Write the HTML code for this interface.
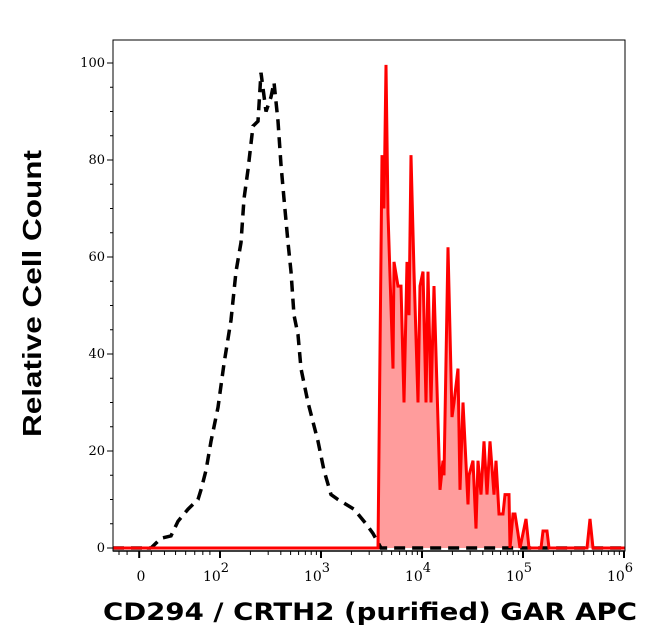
<!DOCTYPE html>
<html><head><meta charset="utf-8"><style>
html,body{margin:0;padding:0;background:#fff;}
svg{display:block;}
</style></head><body>
<svg id="chart" width="646" height="641" xmlns="http://www.w3.org/2000/svg">
<g id="plot"></g>
<g id="axes"></g>
<text transform="translate(41,437) rotate(-90)" font-family="Liberation Sans, sans-serif" font-weight="bold" font-size="26" textLength="287" lengthAdjust="spacingAndGlyphs">Relative Cell Count</text>
<text x="103" y="620" font-family="DejaVu Sans, sans-serif" font-weight="bold" font-size="24" textLength="534" lengthAdjust="spacingAndGlyphs">CD294 / CRTH2 (purified) GAR APC</text>
</svg>
<script>
// decade positions (log10 of intensity) and relative counts
const controlPos = [1.317,1.416,1.515,1.584,1.683,1.782,1.812,1.861,1.911,1.980,2.040,2.109,2.158,2.208,2.238,2.277,2.327,2.376,2.406,2.455,2.505,2.535,2.574,2.604,2.634,2.673,2.703,2.733,2.772,2.802,2.871,2.970,3.030,3.099,3.168,3.327,3.446,3.515,3.594];
const controlCount = [0,2,2.5,5.5,8,10,12,16,22,29,38,47,57,63,72,78,87,88,98,90,93,96,88,79,72,63,57,48,44,37,30,22,16,11,10,8,5,3,0];
const stainedPos = [3.564,3.604,3.624,3.644,3.663,3.713,3.723,3.762,3.792,3.822,3.851,3.871,3.891,3.921,3.960,3.980,4.010,4.040,4.059,4.089,4.119,4.178,4.208,4.218,4.257,4.297,4.317,4.356,4.376,4.406,4.455,4.465,4.505,4.535,4.554,4.584,4.614,4.644,4.673,4.713,4.733,4.762,4.802,4.822,4.861,4.871,4.901,4.921,4.950,4.970,5.030,5.059,5.178,5.198,5.238,5.257,5.634,5.663,5.693];
const stainedCount = [0,81,70,99.6,69,37,59,54,54,30,59,48,81,57,30,54,57,30,57,30,54,12,18,15,62,27,30,37,12,30,9,15,18,4,18,11,22,11,22,11,18,7,7,11,11,0,7,7,3,0,6,0,0,3.5,3.5,0,0,6,0];
const yTicks = [0,20,40,60,80,100];
const xTickLabels = ["0","2","3","4","5","6"];
const xTickPos = [1.2,2,3,4,5,6];

const L=113,R=625,T=40,B=551;
function xs(p){return 321+101*(p-3);}
function ys(v){return 548-4.85*v;}
const NS="http://www.w3.org/2000/svg";
function mk(tag,attrs,parent){const e=document.createElementNS(NS,tag);for(const k in attrs)e.setAttribute(k,attrs[k]);parent.appendChild(e);return e;}
const plot=document.getElementById('plot'), axes=document.getElementById('axes');

let d="M"+xs(stainedPos[0])+","+ys(0);
stainedPos.forEach((p,i)=>{d+=" L"+xs(p).toFixed(1)+","+ys(stainedCount[i]).toFixed(1);});
d+=" L"+xs(stainedPos[stainedPos.length-1])+","+ys(0)+" Z";
const fill=mk('path',{d:d,fill:'#ff9c9c',stroke:'none'},plot);



let dc="M"+L+","+ys(0)+" L"+xs(controlPos[0])+","+ys(0);
controlPos.forEach((p,i)=>{dc+=" L"+xs(p).toFixed(1)+","+ys(controlCount[i]).toFixed(1);});
dc+=" L"+R+","+ys(0);
const ctl=mk('path',{d:dc,fill:'none',stroke:'#000','stroke-width':3.5,'stroke-dasharray':'11 7'},plot);



let ds="M"+L+","+ys(0);
stainedPos.forEach((p,i)=>{ds+=" L"+xs(p).toFixed(1)+","+ys(stainedCount[i]).toFixed(1);});
ds+=" L"+R+","+ys(0);
const st=mk('path',{d:ds,fill:'none',stroke:'#ff0000','stroke-width':3,'stroke-linejoin':'miter'},plot);



const fr=mk('rect',{x:L,y:T,width:R-L,height:B-T,fill:'none',stroke:'#000','stroke-width':1},axes);


mk('line',{x1:L,y1:B,x2:R,y2:B,stroke:'#000','stroke-width':1.5},axes);

for(let v=0;v<=100;v+=5){
  const major=v%20===0;
  const t=mk('line',{x1:L-(major?6:3),x2:L,y1:ys(v),y2:ys(v),stroke:'#000','stroke-width':1},axes);
  
  
}
yTicks.forEach(v=>{
  const t=mk('text',{x:L-8,y:ys(v)+4,'text-anchor':'end','font-family':'DejaVu Serif, Liberation Serif, serif','font-size':13},axes);
  t.textContent=String(v);
  
  
});

xTickPos.forEach((p,i)=>{
  const t=mk('line',{x1:xs(p),x2:xs(p),y1:B,y2:B+7,stroke:'#000','stroke-width':2},axes);
  
  
});
for(let dec=2;dec<6;dec++){for(let m=2;m<10;m++){
  const x=xs(dec+Math.log10(m));
  const t=mk('line',{x1:x,x2:x,y1:B,y2:B+4,stroke:'#000','stroke-width':1},axes);
  
  
}}
[1.0,1.08,1.2,1.32,1.45,1.56,1.66,1.75,1.83,1.9].forEach(p=>{
  const t=mk('line',{x1:xs(p),x2:xs(p),y1:B,y2:B+4,stroke:'#000','stroke-width':1},axes);
  
  
});
xTickLabels.forEach((lab,i)=>{
  const x=xs(xTickPos[i]);
  const t=mk('text',{x:(i===0?141:x),y:581,'text-anchor':'middle','font-family':'DejaVu Serif, Liberation Serif, serif','font-size':14},axes);
  if(i===0){t.textContent=lab;}
  else{
    t.setAttribute('x',x-4);
    t.textContent="10";
    const s=document.createElementNS(NS,'tspan');
    s.setAttribute('dy','-9');s.setAttribute('font-size','13');s.textContent=lab;t.appendChild(s);
  }
  
  
});
</script>
</body></html>
